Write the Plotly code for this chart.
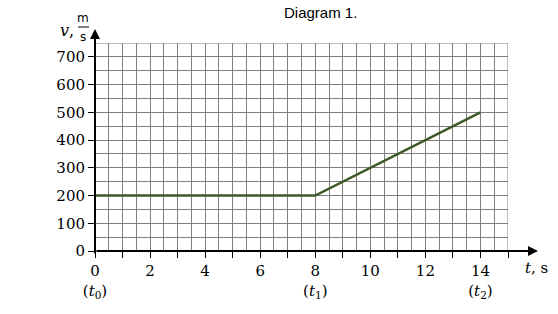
import plotly.graph_objects as go

# Data
t_values = [0, 8, 14]
v_values = [200, 200, 500]
x_tick_vals = list(range(0, 16))
x_tick_text = ["0<br>(<i>t</i><sub>0</sub>)", "", "2", "", "4", "", "6", "",
               "8<br>(<i>t</i><sub>1</sub>)", "", "10", "", "12", "", "14<br>(<i>t</i><sub>2</sub>)", ""]
y_tick_vals = [0, 100, 200, 300, 400, 500, 600, 700]
y_tick_text = ["0", "100", "200", "300", "400", "500", "600", "700"]

GRID = "#808080"
SERIF = "DejaVu Serif"

L, R, T, B = 95, 50, 43, 63
PW, PH = 558 - L - R, 314 - T - B


def px(xp):
    return (xp - L) / PW


def py(yp):
    return (314 - B - yp) / PH


fig = go.Figure()
fig.add_trace(go.Scatter(x=t_values, y=v_values, mode="lines",
                         line=dict(color="#3b5a28", width=2.5), hoverinfo="skip"))

fig.update_layout(
    width=558, height=314,
    margin=dict(l=L, r=R, t=T, b=B),
    paper_bgcolor="white", plot_bgcolor="white",
    showlegend=False,
    xaxis=dict(range=[0, 15], tickvals=x_tick_vals, ticktext=x_tick_text,
               showgrid=False, zeroline=False, showline=False,
               ticks="outside", ticklen=6, tickcolor="black", tickwidth=1,
               tickfont=dict(family=SERIF, size=15, color="black"),
               minor=dict(dtick=0.5, tick0=0, showgrid=True, gridcolor=GRID, gridwidth=1, ticks=""),
               fixedrange=True),
    yaxis=dict(range=[0, 750], tickvals=y_tick_vals, ticktext=y_tick_text,
               showgrid=False, zeroline=False, showline=False,
               ticks="outside", ticklen=6, tickcolor="black", tickwidth=1,
               tickfont=dict(family=SERIF, size=15, color="black"),
               minor=dict(dtick=50, tick0=0, showgrid=True, gridcolor=GRID, gridwidth=1, ticks=""),
               fixedrange=True),
)

# grid border (top and right edges)
fig.add_shape(type="rect", x0=0, x1=15, y0=0, y1=750, xref="x", yref="y",
              line=dict(color=GRID, width=1), layer="below")

# axes with arrows
fig.add_annotation(x=px(538), y=0, xref="paper", yref="paper", axref="pixel", ayref="pixel",
                   ax=-(538 - L), ay=0,
                   text="", showarrow=True, arrowhead=2, arrowsize=1, arrowwidth=2,
                   arrowcolor="black", standoff=0, startstandoff=0)
fig.add_annotation(x=0, y=py(29), xref="paper", yref="paper", axref="pixel", ayref="pixel",
                   ax=0, ay=(255 - 29),
                   text="", showarrow=True, arrowhead=2, arrowsize=1, arrowwidth=2,
                   arrowcolor="black", standoff=0, startstandoff=0)

# title
fig.add_annotation(x=px(320), y=py(12), xref="paper", yref="paper",
                   text="Diagram 1.", showarrow=False,
                   font=dict(family="Liberation Sans", size=15, color="black"),
                   xanchor="center", yanchor="middle")

# axis labels
fig.add_annotation(x=px(523), y=py(268), xref="paper", yref="paper",
                   text="<i>t</i>, s", showarrow=False,
                   font=dict(family=SERIF, size=15, color="black"),
                   xanchor="left", yanchor="middle")
fig.add_annotation(x=px(76), y=py(31), xref="paper", yref="paper",
                   text="<i>v</i>,", showarrow=False,
                   font=dict(family=SERIF, size=16, color="black"),
                   xanchor="right", yanchor="middle")
fig.add_annotation(x=px(83), y=py(18), xref="paper", yref="paper",
                   text="m", showarrow=False,
                   font=dict(family="DejaVu Sans", size=12, color="black"),
                   xanchor="center", yanchor="middle")
fig.add_annotation(x=px(83), y=py(37), xref="paper", yref="paper",
                   text="s", showarrow=False,
                   font=dict(family="DejaVu Sans", size=12, color="black"),
                   xanchor="center", yanchor="middle")
fig.add_shape(type="line", xref="paper", yref="paper",
              x0=px(78), x1=px(89), y0=py(27), y1=py(27),
              line=dict(color="black", width=1))

fig.write_html("out.html")
